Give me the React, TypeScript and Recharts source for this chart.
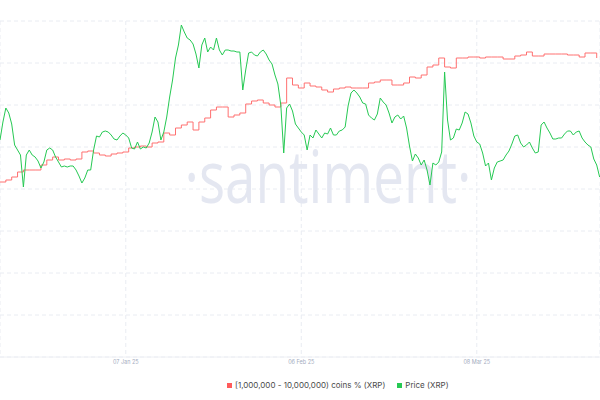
import React from 'react';
import { LineChart, Line, XAxis, YAxis, CartesianGrid, Legend } from 'recharts';

const HOUR = 3600 * 1000;
const DAY = 24 * HOUR;
const START = Date.UTC(2024, 11, 16, 12);
const END = Date.UTC(2025, 2, 29, 1, 30);

// XRP price, one value every 12 hours from START
const priceValues = [
  2.17, 2.35, 2.49, 2.44, 2.33, 2.12, 2.07, 2.02, 1.70, 2.02,
  2.07, 2.02, 2.00, 1.96, 1.89, 1.95, 2.07, 2.09, 2.07, 2.00,
  1.95, 1.90, 1.91, 1.90, 1.91, 1.91, 1.87, 1.81, 1.74, 1.79,
  1.87, 1.87, 2.07, 2.21, 2.20, 2.25, 2.26, 2.25, 2.22, 2.18,
  2.17, 2.21, 2.24, 2.22, 2.19, 2.09, 2.08, 2.15, 2.08, 2.10,
  2.09, 2.14, 2.25, 2.40, 2.35, 2.17, 2.25, 2.40, 2.60, 2.77,
  2.99, 3.12, 3.32, 3.25, 3.19, 3.17, 3.13, 3.03, 2.89, 3.12,
  3.19, 3.05, 3.10, 3.07, 3.19, 3.07, 3.02, 3.07, 3.07, 3.06,
  3.06, 3.05, 3.05, 2.67, 2.87, 3.04, 3.05, 3.02, 3.01, 3.05,
  3.07, 3.03, 2.97, 2.93, 2.82, 2.73, 2.52, 2.04, 2.49, 2.53,
  2.46, 2.33, 2.29, 2.25, 2.22, 2.07, 2.22, 2.19, 2.27, 2.23,
  2.19, 2.24, 2.23, 2.29, 2.22, 2.22, 2.26, 2.27, 2.30, 2.51,
  2.64, 2.67, 2.64, 2.60, 2.54, 2.53, 2.42, 2.39, 2.37, 2.43,
  2.59, 2.55, 2.52, 2.44, 2.34, 2.40, 2.42, 2.38, 2.41, 2.29,
  2.11, 1.96, 2.03, 1.99, 1.92, 1.97, 1.87, 1.72, 1.94, 1.92,
  1.95, 2.05, 2.85, 2.37, 2.17, 2.19, 2.28, 2.27, 2.34, 2.45,
  2.43, 2.34, 2.21, 2.15, 2.13, 2.04, 1.91, 1.94, 1.77, 1.89,
  1.95, 1.96, 1.97, 2.02, 2.06, 2.13, 2.21, 2.22, 2.14, 2.10,
  2.12, 2.15, 2.09, 2.04, 2.05, 2.32, 2.35, 2.29, 2.24, 2.18,
  2.18, 2.19, 2.19, 2.23, 2.26, 2.26, 2.22, 2.25, 2.26, 2.19,
  2.15, 2.12, 2.10, 1.98, 1.92, 1.80,
];

// share of supply held by 1M-10M coin wallets, one value per day from START
const holderValues = [
  4.75, 4.77, 4.80, 4.85, 4.87, 4.87, 4.87, 4.92, 4.97, 5.00,
  4.97, 4.98, 4.97, 4.98, 5.05, 5.06, 5.04, 5.02, 5.01, 5.03,
  5.04, 5.05, 5.09, 5.10, 5.11, 5.10, 5.14, 5.15, 5.24, 5.22,
  5.29, 5.32, 5.35, 5.27, 5.35, 5.39, 5.47, 5.50, 5.50, 5.40,
  5.42, 5.44, 5.53, 5.56, 5.57, 5.54, 5.52, 5.50, 5.54, 5.79,
  5.72, 5.69, 5.74, 5.71, 5.70, 5.67, 5.65, 5.68, 5.69, 5.70,
  5.69, 5.69, 5.69, 5.74, 5.75, 5.77, 5.77, 5.72, 5.72, 5.74,
  5.80, 5.79, 5.82, 5.90, 5.92, 5.99, 5.90, 5.89, 5.99, 5.99,
  6.00, 6.00, 5.99, 6.00, 6.00, 6.00, 5.98, 5.98, 6.01, 6.02,
  6.05, 6.01, 6.01, 6.03, 6.03, 6.03, 6.03, 6.02, 6.02, 6.00,
  6.04, 6.04, 5.99,
];

const dateTicks = [Date.UTC(2025, 0, 7), Date.UTC(2025, 1, 6), Date.UTC(2025, 2, 8)];
const priceGridTicks = [0, 0.42, 0.84, 1.26, 1.68, 2.1, 2.52, 2.94, 3.36];

const seriesNames = {
  holders: '[1,000,000 - 10,000,000) coins % (XRP)',
  price: 'Price (XRP)',
};

const RED = '#ff5b5b';
const GREEN = '#26c953';

const priceData = priceValues.map((v, i) => ({ t: START + i * 12 * HOUR, price: v }));
const holderData = holderValues.map((v, i) => ({ t: START + i * DAY, share: v }));

const MONTHS = ['Jan', 'Feb', 'Mar', 'Apr', 'May', 'Jun', 'Jul', 'Aug', 'Sep', 'Oct', 'Nov', 'Dec'];
const fmtDate = (t: number) => {
  const d = new Date(t);
  const dd = String(d.getUTCDate()).padStart(2, '0');
  return `${dd} ${MONTHS[d.getUTCMonth()]} ${String(d.getUTCFullYear()).slice(2)}`;
};

const LegendContent = () => (
  <div style={{ display: 'flex', alignItems: 'center', paddingLeft: 227, height: 18, fontSize: 8, color: '#4a4a4a' }}>
    <span style={{ width: 5, height: 5, background: RED, marginRight: 3 }} />
    <span style={{ marginRight: 12 }}>{seriesNames.holders}</span>
    <span style={{ width: 5, height: 5, background: GREEN, marginRight: 3 }} />
    <span>{seriesNames.price}</span>
  </div>
);

export default function App() {
  return (
    <div style={{ width: 600, height: 400, fontFamily: 'Inter, "Noto Sans", sans-serif', background: '#fff' }}>
      <style>{'body{margin:0}'}</style>
      <LineChart width={600} height={400} margin={{ top: 21, right: 0, left: 0, bottom: 6 }}>
        <text
          x={328}
          y={203}
          textAnchor="middle"
          fontSize={74}
          fontFamily="'Open Sans', sans-serif"
          fill="#e4e7f1"
          textLength={287}
          lengthAdjust="spacingAndGlyphs"
        >
          ·santiment·
        </text>
        <CartesianGrid yAxisId="price" stroke="#e9ecf2" strokeDasharray="4 3" />
        <XAxis
          dataKey="t"
          type="number"
          domain={[START, END]}
          ticks={dateTicks}
          tickFormatter={fmtDate}
          allowDataOverflow
          height={19}
          tickLine={false}
          tickSize={0}
          tickMargin={3}
          axisLine={{ stroke: '#eef0f4' }}
          tick={{ fontSize: 5.5, fill: '#a4acc0' }}
        />
        <YAxis yAxisId="price" hide domain={[0, 3.36]} ticks={priceGridTicks} allowDataOverflow />
        <YAxis yAxisId="holders" hide domain={[3, 6.36]} allowDataOverflow />
        <Legend verticalAlign="bottom" content={LegendContent} />
        <Line
          yAxisId="holders"
          data={holderData}
          dataKey="share"
          name={seriesNames.holders}
          type="stepAfter"
          stroke="#ff7070"
          strokeWidth={1}
          dot={false}
          isAnimationActive={false}
        />
        <Line
          yAxisId="price"
          data={priceData}
          dataKey="price"
          name={seriesNames.price}
          type="linear"
          stroke={GREEN}
          strokeWidth={1}
          dot={false}
          isAnimationActive={false}
        />
      </LineChart>
    </div>
  );
}
